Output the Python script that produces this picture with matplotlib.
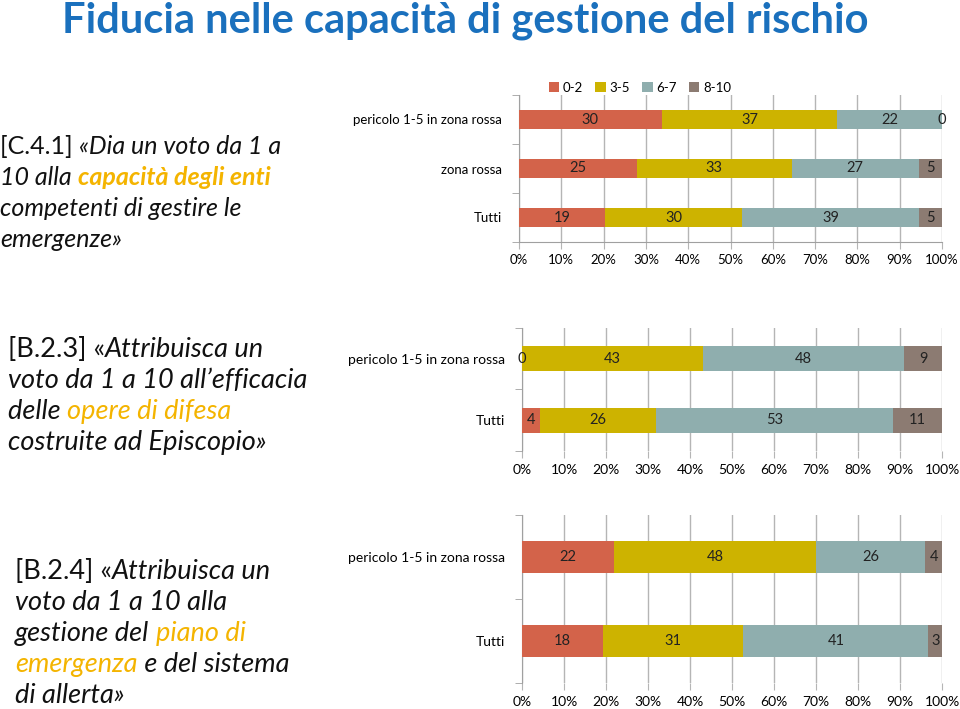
import numpy as np
import matplotlib
matplotlib.use("Agg")
import matplotlib.pyplot as plt
from matplotlib.patches import Patch

# data
bins = ["0-2", "3-5", "6-7", "8-10"]
colors = ["#D3634A", "#CDB300", "#8FAEAE", "#8C7B72"]

c41_groups = ["pericolo 1-5 in zona rossa", "zona rossa", "Tutti"]
c41_values = [[30, 37, 22, 0],
              [25, 33, 27, 5],
              [19, 30, 39, 5]]

b23_groups = ["pericolo 1-5 in zona rossa", "Tutti"]
b23_values = [[0, 43, 48, 9],
              [4, 26, 53, 11]]

b24_groups = ["pericolo 1-5 in zona rossa", "Tutti"]
b24_values = [[22, 48, 26, 4],
              [18, 31, 41, 3]]

xticks = np.arange(0, 101, 10)
xticklabels = [f"{t}%" for t in xticks]

W, H = 960, 709
fig = plt.figure(figsize=(W / 100, H / 100), dpi=100)
fig.patch.set_facecolor("white")

BLUE = "#1A70BD"
ORANGE = "#F4B400"
FONT = ["Lato", "DejaVu Sans"]


def px_axes(x0, y0, x1, y1):
    return fig.add_axes([x0 / W, 1 - y1 / H, (x1 - x0) / W, (y1 - y0) / H])


def stacked(ax, groups, values, bar_h, fs, label_fs):
    vals = np.array(values, dtype=float)
    pct = vals / vals.sum(axis=1, keepdims=True) * 100
    ypos = np.arange(len(groups))
    left = np.zeros(len(groups))
    for j in range(vals.shape[1]):
        ax.barh(ypos, pct[:, j], left=left, height=bar_h, color=colors[j],
                zorder=3)
        for i in range(len(groups)):
            ax.text(left[i] + pct[i, j] / 2, ypos[i], f"{int(vals[i, j])}",
                    ha="center", va="center", fontsize=label_fs, color="#222222",
                    family=FONT, zorder=4)
        left += pct[:, j]
    ax.set_xlim(0, 100)
    ax.set_ylim(len(groups) - 0.5, -0.5)
    ax.set_yticks(ypos)
    ax.set_yticklabels(groups, family=FONT, fontsize=fs)
    ax.set_yticks(np.arange(len(groups) + 1) - 0.5, minor=True)
    ax.set_xticks(xticks)
    ax.set_xticklabels(xticklabels, family=FONT, fontsize=fs)
    ax.grid(axis="x", color="#B5B5B5", linewidth=1, zorder=0)
    for s in ["top", "right", "bottom"]:
        ax.spines[s].set_visible(False)
    ax.spines["left"].set_color("#A0A0A0")
    ax.tick_params(axis="y", which="major", length=0, pad=12)
    ax.tick_params(axis="y", which="minor", length=5, color="#A0A0A0")
    ax.tick_params(axis="x", length=5, color="#B5B5B5", pad=4)


ax1 = px_axes(519, 95, 942, 242)
stacked(ax1, c41_groups, c41_values, 0.4, 9.5, 10.5)
ax1.spines["bottom"].set_visible(True)
ax1.spines["bottom"].set_color("#A0A0A0")

ax2 = px_axes(522, 328, 942, 451)
stacked(ax2, b23_groups, b23_values, 0.41, 10, 10.5)

ax3 = px_axes(522, 515, 942, 683)
stacked(ax3, b24_groups, b24_values, 0.39, 10, 10.5)

handles = [Patch(facecolor=c, edgecolor="none") for c in colors]
fig.legend(handles, bins, loc="center", bbox_to_anchor=(640 / W, 1 - 88 / H),
           ncol=4, frameon=False, handlelength=0.8, handleheight=0.8,
           handletextpad=0.3, columnspacing=0.9, prop={"family": FONT, "size": 9.5})

# title
fig.text(62 / W, 1 - 21 / H, "Fiducia nelle capacità di gestione del rischio",
         color=BLUE, fontsize=30, fontweight="bold", family=FONT, va="center")

# left-hand questions, drawn run by run
renderer = fig.canvas.get_renderer()


def runs(x, y0, dy, lines, fs):
    for k, line in enumerate(lines):
        xp = x
        y = y0 + k * dy
        for txt, col, style, weight in line:
            t = fig.text(xp / W, 1 - y / H, txt, color=col, fontsize=fs,
                         style=style, fontweight=weight, family=FONT,
                         va="baseline", ha="left")
            bb = t.get_window_extent(renderer)
            xp += bb.width


K = "#111111"
runs(0, 154, 31, [
    [("[C.4.1] ", K, "normal", "normal"), ("«Dia un voto da 1 a", K, "italic", "normal")],
    [("10 alla ", K, "italic", "normal"), ("capacità degli enti", ORANGE, "italic", "bold")],
    [("competenti di gestire le", K, "italic", "normal")],
    [("emergenze»", K, "italic", "normal")],
], 18)

runs(8, 357, 31, [
    [("[B.2.3] «", K, "normal", "normal"), ("Attribuisca un", K, "italic", "normal")],
    [("voto da 1 a 10 all’efficacia", K, "italic", "normal")],
    [("delle ", K, "italic", "normal"), ("opere di difesa", ORANGE, "italic", "normal")],
    [("costruite ad Episcopio»", K, "italic", "normal")],
], 19.5)

runs(15, 579, 31, [
    [("[B.2.4] «", K, "normal", "normal"), ("Attribuisca un", K, "italic", "normal")],
    [("voto da 1 a 10 alla", K, "italic", "normal")],
    [("gestione del ", K, "italic", "normal"), ("piano di", ORANGE, "italic", "normal")],
    [("emergenza", ORANGE, "italic", "normal"), (" e del sistema", K, "italic", "normal")],
    [("di allerta»", K, "italic", "normal")],
], 19.5)

fig.savefig("out.png", dpi=100)
